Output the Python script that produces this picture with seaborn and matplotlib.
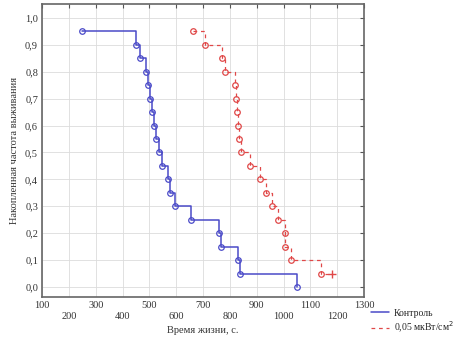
import numpy as np
import pandas as pd
import matplotlib
matplotlib.use("Agg")
import matplotlib.pyplot as plt
from matplotlib.lines import Line2D
import seaborn as sns

# control group: event times and cumulative survival
control_time = [250, 450, 463, 488, 495, 501, 508, 516, 524, 536,
                545, 570, 575, 597, 656, 761, 768, 830, 839, 1049]
control_surv = [0.95, 0.90, 0.85, 0.80, 0.75, 0.70, 0.65, 0.60, 0.55, 0.50,
                0.45, 0.40, 0.35, 0.30, 0.25, 0.20, 0.15, 0.10, 0.05, 0.00]

# 0,05 uW/cm2 group (last point is censored)
dose_time = [664, 707, 770, 780, 820, 824, 826, 830, 835, 842,
             876, 911, 936, 955, 980, 1005, 1007, 1026, 1139, 1180]
dose_surv = [0.95, 0.90, 0.85, 0.80, 0.75, 0.70, 0.65, 0.60, 0.55, 0.50,
             0.45, 0.40, 0.35, 0.30, 0.25, 0.20, 0.15, 0.10, 0.05, 0.05]
dose_censored = [False] * 19 + [True]

x_ticks = list(range(100, 1400, 100))
y_ticks = [round(v * 0.1, 1) for v in range(0, 11)]

labels = ["Контроль", "0,05 мкВт/см$^2$"]
blue = "#4a4ac8"
red = "#e04848"
dash = (0, (3, 3))

sns.set_style("white")
plt.rcParams["font.family"] = ["Liberation Serif", "DejaVu Serif"]

fig = plt.figure(figsize=(4.74, 3.51), dpi=100)
ax = fig.add_axes([0.089, 0.154, 0.679, 0.835])

ctrl = pd.DataFrame({"t": control_time, "s": control_surv})
dose = pd.DataFrame({"t": dose_time, "s": dose_surv, "cens": dose_censored})

sns.lineplot(data=ctrl, x="t", y="s", ax=ax, color=blue, lw=1.1,
             drawstyle="steps-post", estimator=None, sort=False,
             marker="o", mfc="none", mec=blue, ms=4, mew=0.9)
ev_idx = list(np.where(~dose["cens"])[0])
sns.lineplot(data=dose, x="t", y="s", ax=ax, color=red, lw=0.9,
             drawstyle="steps-post", estimator=None, sort=False,
             linestyle=dash, marker="o", mfc="none", mec=red,
             ms=4, mew=0.9, markevery=ev_idx)
sns.scatterplot(data=dose[dose["cens"]], x="t", y="s", ax=ax, marker="+",
                color=red, s=30, linewidth=1.0, legend=False)

ax.set_xlim(100, 1300)
ax.set_ylim(-0.037, 1.052)
ax.set_xticks(x_ticks)
ax.set_xticklabels([str(v) if (v // 100) % 2 == 1 else "\n" + str(v) for v in x_ticks])
ax.set_yticks(y_ticks)
ax.set_yticklabels([f"{v:.1f}".replace(".", ",") for v in y_ticks])
ax.grid(True, color="#dcdcdc", lw=0.6)
ax.tick_params(axis="both", which="both", direction="in", length=3, labelsize=7.5,
               colors="#555555", top=True, right=True, pad=3)
for lab in ax.get_xticklabels() + ax.get_yticklabels():
    lab.set_color("#333333")
for sp in ax.spines.values():
    sp.set_color("#666666")
    sp.set_linewidth(1.2)

ax.set_xlabel("Время жизни, с.", fontsize=7.5, color="#333333", labelpad=4)
ax.set_ylabel("Накопленная частота выживания", fontsize=7.5, color="#333333", labelpad=4)

handles = [Line2D([], [], color=blue, lw=1.1),
           Line2D([], [], color=red, lw=0.9, linestyle=dash)]
ax.legend(handles, labels, loc="upper left", bbox_to_anchor=(1.005, -0.02),
          frameon=False, fontsize=7, handlelength=1.8, handletextpad=0.5,
          labelspacing=0.2, borderaxespad=0.2)

fig.savefig("out.png", dpi=100)
